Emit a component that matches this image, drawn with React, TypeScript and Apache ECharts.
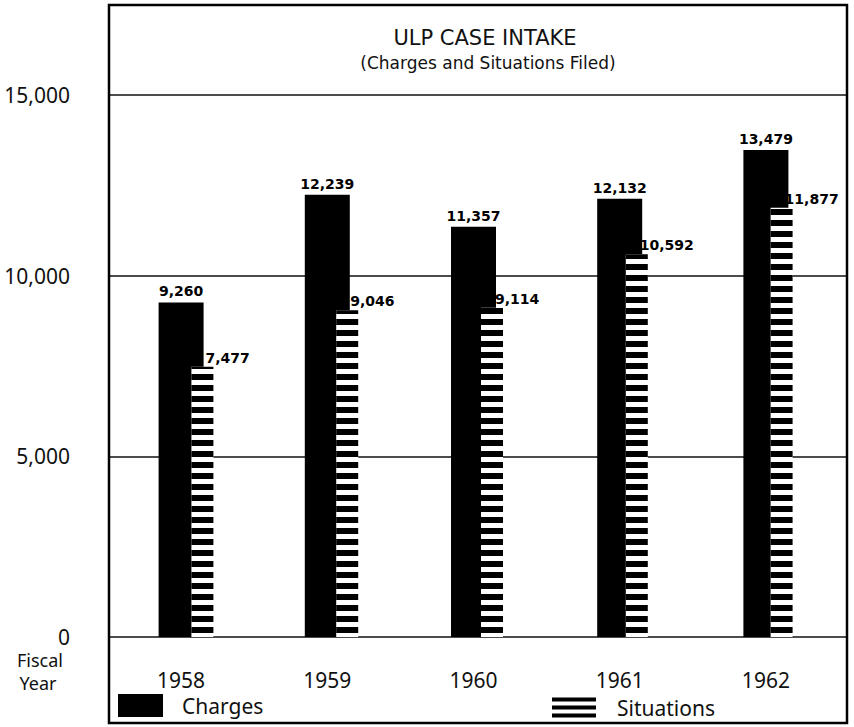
import React, { useEffect, useRef } from "react";
import * as echarts from "echarts";

const years = ["1958", "1959", "1960", "1961", "1962"];
const charges = [9260, 12239, 11357, 12132, 13479];
const situations = [7477, 9046, 9114, 10592, 11877];
const yTicks = { min: 0, max: 15000, interval: 5000 };

const fmt = (v: number) => v.toLocaleString("en-US");

export default function App() {
  const ref = useRef<HTMLDivElement>(null);
  useEffect(() => {
    if (!ref.current) return;
    const chart = echarts.init(ref.current, null, { renderer: "svg" });
    const stripe = {
      symbol: "rect",
      symbolSize: 1,
      color: "#000",
      dashArrayX: [10, 0],
      dashArrayY: [6, 5],
      rotation: 0,
    };
    const option: any = {
      animation: false,
      backgroundColor: "#fff",
      title: [
        {
          text: "ULP CASE INTAKE",
          left: 480,
          top: 22,
          textAlign: "center",
          textStyle: { fontSize: 21, fontWeight: "normal", fontFamily: "DejaVu Sans", color: "#111" },
        },
        {
          text: "(Charges and Situations Filed)",
          left: 483,
          top: 49,
          textAlign: "center",
          textStyle: { fontSize: 17, fontWeight: "normal", fontFamily: "DejaVu Sans", color: "#111" },
        },
      ],
      legend: [
        {
          left: 118,
          top: 694,
          itemWidth: 45,
          itemHeight: 23,
          padding: 0,
          selectedMode: false,
          data: [{ name: "Charges", icon: "rect" }],
          textStyle: { fontSize: 21, fontFamily: "Noto Sans", color: "#111", padding: [0, 0, 0, 14] },
        },
        {
          left: 552,
          top: 697,
          itemWidth: 44,
          itemHeight: 20,
          padding: 0,
          selectedMode: false,
          data: [
            {
              name: "Situations",
              icon: "path://M0 0H44V4H0Z M0 8H44V12H0Z M0 16H44V20H0Z",
              itemStyle: { color: "#000" },
            },
          ],
          textStyle: { fontSize: 21, fontFamily: "Noto Sans", color: "#111", padding: [0, 0, 0, 16] },
        },
      ],
      grid: [
        { left: 109, right: 7, top: 95, bottom: 90 },
        { left: 108, width: 731, top: 95, bottom: 90 },
        { left: 130, width: 731, top: 95, bottom: 90 },
      ],
      xAxis: [
        { type: "category", gridIndex: 0, data: years, show: false },
        {
          type: "category",
          gridIndex: 1,
          data: years,
          axisLine: { show: false },
          axisTick: { show: false },
          axisLabel: { margin: 32, fontSize: 21, fontFamily: "Noto Sans", color: "#111" },
        },
        { type: "category", gridIndex: 2, data: years, show: false },
      ],
      yAxis: [
        {
          type: "value",
          gridIndex: 0,
          min: yTicks.min,
          max: yTicks.max,
          interval: yTicks.interval,
          axisLine: { show: false },
          axisTick: { show: false },
          splitLine: { show: true, lineStyle: { color: "#111", width: 1.5 } },
          axisLabel: {
            margin: 39,
            fontSize: 21,
            fontFamily: "Noto Sans",
            color: "#111",
            formatter: (v: number) => fmt(v),
          },
        },
        { type: "value", gridIndex: 1, min: yTicks.min, max: yTicks.max, show: false, splitLine: { show: false } },
        { type: "value", gridIndex: 2, min: yTicks.min, max: yTicks.max, show: false, splitLine: { show: false } },
      ],
      series: [
        {
          name: "Charges",
          type: "bar",
          xAxisIndex: 1,
          yAxisIndex: 1,
          barWidth: 45,
          data: charges,
          itemStyle: { color: "#000" },
          z: 2,
          label: {
            show: true,
            position: "top",
            distance: 4,
            fontSize: 14,
            fontWeight: "bold",
            fontFamily: "DejaVu Sans",
            color: "#000",
            formatter: (p: any) => fmt(p.value),
          },
        },
        {
          name: "Situations",
          type: "bar",
          xAxisIndex: 2,
          yAxisIndex: 2,
          barWidth: 22,
          z: 3,
          data: situations.map((v) => ({ value: v, itemStyle: { color: "#fff", decal: stripe } })),
          itemStyle: { color: "#fff" },
          label: {
            show: true,
            position: [14, -2],
            align: "left",
            verticalAlign: "bottom",
            fontSize: 14,
            fontWeight: "bold",
            fontFamily: "DejaVu Sans",
            color: "#000",
            formatter: (p: any) => fmt(typeof p.value === "number" ? p.value : p.data.value),
          },
        },
      ],
      graphic: [
        {
          type: "rect",
          shape: { x: 109, y: 5, width: 738, height: 718 },
          style: { fill: "none", stroke: "#000", lineWidth: 2.5 },
          z: 10,
        },
        {
          type: "text",
          x: 40,
          y: 660,
          style: { text: "Fiscal", fontSize: 18, fontFamily: "Noto Sans", fill: "#111", textAlign: "center", textVerticalAlign: "middle" },
        },
        {
          type: "text",
          x: 38,
          y: 683,
          style: { text: "Year", fontSize: 18, fontFamily: "Noto Sans", fill: "#111", textAlign: "center", textVerticalAlign: "middle" },
        },
      ],
    };
    chart.setOption(option);
    return () => chart.dispose();
  }, []);
  return <div ref={ref} style={{ width: 854, height: 727, position: "absolute", left: 0, top: 0 }} />;
}
